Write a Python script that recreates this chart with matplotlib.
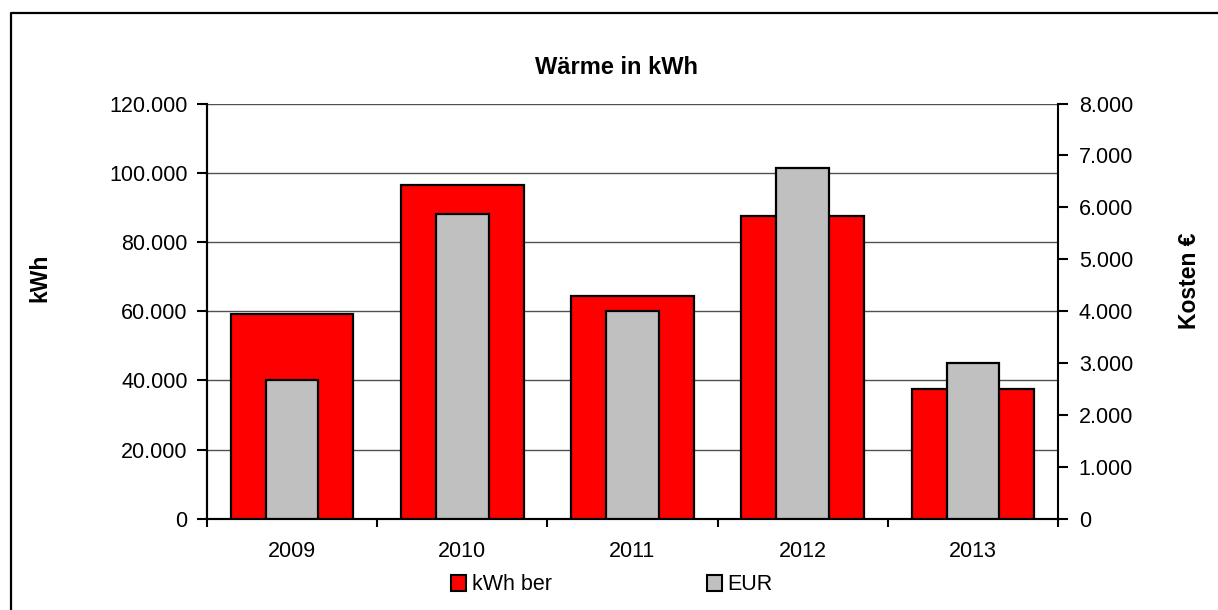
import matplotlib
matplotlib.use("Agg")
import matplotlib.pyplot as plt
from matplotlib.ticker import FuncFormatter, FixedLocator
from matplotlib.patches import Patch
from matplotlib.lines import Line2D

years = ["2009", "2010", "2011", "2012", "2013"]
kwh = [59250, 96450, 64450, 87500, 37570]
eur = [2667, 5877, 4000, 6751, 3006]

plt.rcParams['font.family'] = ['Liberation Sans', 'DejaVu Sans']
FS = 15.5

W, H = 1218, 610
fig = plt.figure(figsize=(W / 100, H / 100), dpi=100)
ax = fig.add_axes([207 / W, 1 - 518.7 / H, 851 / W, (518.7 - 103.5) / H])
ax2 = ax.twinx()

x = list(range(len(years)))
ax.bar(x, kwh, width=0.72, color='#FF0000', edgecolor='black', linewidth=1.6, zorder=3)
ax2.bar(x, eur, width=0.31, color='#C0C0C0', edgecolor='black', linewidth=1.6, zorder=3)

ax.set_xlim(-0.5, len(years) - 0.5)
ax.set_ylim(0, 120000)
ax2.set_ylim(0, 8000)
ax.set_yticks(range(0, 120001, 20000))
ax2.set_yticks(range(0, 8001, 1000))

fmt = FuncFormatter(lambda v, p: f"{int(v):,}".replace(",", "."))
ax.yaxis.set_major_formatter(fmt)
ax2.yaxis.set_major_formatter(fmt)

ax.grid(axis='y', color='#505050', linewidth=1.0, zorder=0)
ax.set_axisbelow(True)

# x ticks at category boundaries, labels at centers
ax.xaxis.set_major_locator(FixedLocator([i - 0.5 for i in range(len(years) + 1)]))
ax.xaxis.set_major_formatter(FuncFormatter(lambda v, p: ""))
ax.xaxis.set_minor_locator(FixedLocator(x))
ax.set_xticklabels(years, minor=True)
ax.tick_params(axis='x', which='major', direction='out', length=6, width=1.5)
ax.tick_params(axis='x', which='minor', length=0, pad=16, labelsize=FS)
ax.tick_params(axis='y', direction='out', length=7, width=1.5, pad=7, labelsize=FS)
ax2.tick_params(axis='y', direction='out', length=7, width=1.5, pad=8, labelsize=FS)

for a in (ax, ax2):
    a.spines['top'].set_visible(False)
    for s in ('left', 'right', 'bottom'):
        a.spines[s].set_linewidth(1.5)
ax.spines['right'].set_visible(False)

fig.text(616 / W, 1 - 67 / H, "Wärme in kWh", ha='center', va='center',
         fontsize=17, fontweight='bold')
fig.text(40 / W, 1 - 278 / H, "kWh", ha='center', va='center', rotation=90,
         fontsize=16.5, fontweight='bold')
fig.text(1190 / W, 1 - 281 / H, "Kosten €", ha='center', va='center', rotation=90,
         fontsize=16.5, fontweight='bold')

handles = [Patch(facecolor='#FF0000', edgecolor='black', linewidth=1.5, label='kWh ber'),
           Patch(facecolor='#C0C0C0', edgecolor='black', linewidth=1.5, label='EUR')]
fig.legend(handles=handles, loc='center', bbox_to_anchor=(612 / W, 1 - 585 / H),
           ncol=2, frameon=False, fontsize=FS, handlelength=0.7, handleheight=0.7,
           handletextpad=0.25, columnspacing=7.2, borderpad=0, borderaxespad=0)

# outer frame (left and top edges visible)
fig.add_artist(Line2D([11 / W, 11 / W, 1.0], [0.0, 1 - 13 / H, 1 - 13 / H],
                      transform=fig.transFigure, color='black', linewidth=1.6))

fig.savefig("out.png", dpi=100)
